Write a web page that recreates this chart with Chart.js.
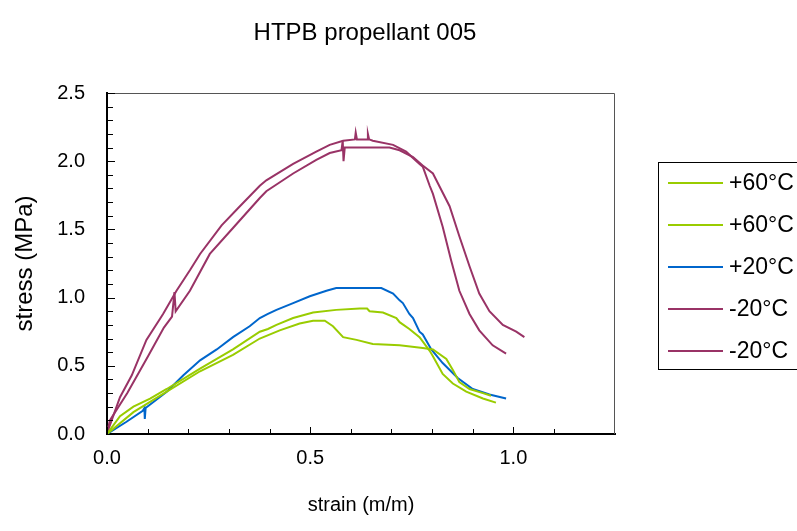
<!DOCTYPE html>
<html>
<head>
<meta charset="utf-8">
<script src="https://cdn.jsdelivr.net/npm/chart.js@4/dist/chart.umd.min.js"></script>
<style>
  html, body { margin: 0; padding: 0; background: #fff; }
  #wrap { width: 797px; height: 531px; }
</style>
</head>
<body>
<div id="wrap"><canvas id="chart" width="797" height="531"></canvas></div>
<script>
// serie: strain (m/m) e stress (MPa)
let labels = ['+60°C', '+60°C', '+20°C', '-20°C', '-20°C'];
let colors = ['#99CC00', '#99CC00', '#0066CC', '#993366', '#993366'];

let g1x = [0, 0.032, 0.065, 0.106, 0.147, 0.229, 0.31, 0.376, 0.396, 0.417, 0.458, 0.507, 0.564, 0.622, 0.64, 0.646, 0.679, 0.712, 0.72, 0.744, 0.769, 0.794, 0.802, 0.826, 0.851, 0.884, 0.925, 0.957];
let g1y = [0, 0.13, 0.20, 0.26, 0.33, 0.48, 0.62, 0.75, 0.77, 0.80, 0.85, 0.89, 0.91, 0.92, 0.92, 0.90, 0.89, 0.85, 0.82, 0.77, 0.71, 0.61, 0.57, 0.44, 0.37, 0.31, 0.26, 0.23];

let g2x = [0, 0.065, 0.147, 0.229, 0.31, 0.376, 0.425, 0.474, 0.507, 0.536, 0.556, 0.581, 0.614, 0.654, 0.72, 0.777, 0.802, 0.835, 0.851, 0.867, 0.892, 0.925, 0.945];
let g2y = [0, 0.16, 0.31, 0.46, 0.58, 0.70, 0.76, 0.81, 0.83, 0.83, 0.79, 0.71, 0.69, 0.66, 0.65, 0.63, 0.62, 0.55, 0.47, 0.38, 0.33, 0.30, 0.28];

let bx = [0, 0.048, 0.088, 0.092, 0.093, 0.095, 0.147, 0.188, 0.229, 0.27, 0.31, 0.351, 0.376, 0.396, 0.417, 0.458, 0.499, 0.54, 0.564, 0.675, 0.704, 0.72, 0.728, 0.744, 0.753, 0.769, 0.777, 0.798, 0.826, 0.863, 0.9, 0.941, 0.982];
let by = [0, 0.09, 0.17, 0.19, 0.11, 0.19, 0.31, 0.43, 0.54, 0.62, 0.71, 0.79, 0.85, 0.88, 0.91, 0.96, 1.01, 1.05, 1.07, 1.07, 1.03, 0.98, 0.96, 0.88, 0.85, 0.75, 0.73, 0.62, 0.52, 0.41, 0.33, 0.29, 0.26];

let m1x = [0, 0.003, 0.032, 0.061, 0.097, 0.138, 0.171, 0.204, 0.229, 0.282, 0.327, 0.376, 0.392, 0.458, 0.515, 0.548, 0.581, 0.61, 0.612, 0.615, 0.64, 0.642, 0.645, 0.654, 0.704, 0.736, 0.769, 0.777, 0.794, 0.802, 0.826, 0.847, 0.867, 0.892, 0.916, 0.949, 0.982];
let m1y = [0, 0.03, 0.27, 0.43, 0.69, 0.88, 1.05, 1.20, 1.32, 1.53, 1.67, 1.82, 1.86, 1.98, 2.07, 2.12, 2.15, 2.16, 2.21, 2.16, 2.16, 2.20, 2.16, 2.15, 2.12, 2.07, 1.98, 1.96, 1.82, 1.76, 1.52, 1.27, 1.05, 0.88, 0.76, 0.65, 0.59];

let m2x = [0, 0.007, 0.05, 0.101, 0.14, 0.16, 0.166, 0.169, 0.204, 0.253, 0.31, 0.376, 0.392, 0.458, 0.515, 0.548, 0.577, 0.58, 0.582, 0.585, 0.695, 0.72, 0.753, 0.776, 0.802, 0.843, 0.867, 0.892, 0.916, 0.941, 0.974, 1.007, 1.027];
let m2y = [0, 0.10, 0.30, 0.57, 0.78, 0.86, 1.04, 0.90, 1.05, 1.32, 1.51, 1.73, 1.78, 1.91, 2.01, 2.06, 2.08, 2.15, 2.00, 2.10, 2.10, 2.08, 2.03, 1.97, 1.91, 1.67, 1.45, 1.23, 1.03, 0.90, 0.80, 0.75, 0.71];

let xTickLabels = [0, 0.5, 1.0];
let yTickLabels = [0, 0.5, 1.0, 1.5, 2.0, 2.5];

let serie = [[g1x, g1y], [g2x, g2y], [bx, by], [m1x, m1y], [m2x, m2y]];

let FONT = "'Liberation Sans', Arial, sans-serif";

function toPoints(xs, ys) {
    let pts = [];
    for (let i = 0; i < xs.length; i++) pts.push({x: xs[i], y: ys[i]});
    return pts;
}

function isLabel(v, list) {
    return list.some(l => Math.abs(l - v) < 1e-6);
}

// titolo, bordo, tacche interne e legenda
let decorPlugin = {
    id: 'decor',
    afterDraw(chart) {
        let {ctx, chartArea: a} = chart;
        ctx.save();

        // bordo sopra e a destra
        ctx.strokeStyle = '#555';
        ctx.lineWidth = 1;
        ctx.beginPath();
        ctx.moveTo(a.left, a.top + 0.5);
        ctx.lineTo(a.right - 0.5, a.top + 0.5);
        ctx.lineTo(a.right - 0.5, a.bottom);
        ctx.stroke();

        // tacche verso l'interno
        ctx.strokeStyle = '#000';
        ctx.lineWidth = 1;
        let xs = chart.scales.x, ys = chart.scales.y;
        xs.ticks.forEach(t => {
            let v = t.value;
            if (Math.abs(v * 10 - Math.round(v * 10)) > 1e-6) return;
            let px = Math.round(xs.getPixelForValue(v)) + 0.5;
            let len = isLabel(v, xTickLabels) ? 7 : 5;
            ctx.beginPath();
            ctx.moveTo(px, a.bottom);
            ctx.lineTo(px, a.bottom - len);
            ctx.stroke();
        });
        ys.ticks.forEach(t => {
            let v = t.value;
            if (Math.abs(v * 10 - Math.round(v * 10)) > 1e-6) return;
            let py = Math.round(ys.getPixelForValue(v)) + 0.5;
            let len = isLabel(v, yTickLabels) ? 8 : 6;
            ctx.beginPath();
            ctx.moveTo(a.left, py);
            ctx.lineTo(a.left + len, py);
            ctx.stroke();
        });

        // titolo
        ctx.fillStyle = '#000';
        ctx.font = '24px ' + FONT;
        ctx.textAlign = 'center';
        ctx.textBaseline = 'middle';
        ctx.fillText('HTPB propellant 005', 365, 33);

        // legenda
        let lx = 658, ly = 162, rowH = 42;
        ctx.strokeStyle = '#000';
        ctx.lineWidth = 1;
        ctx.strokeRect(lx + 0.5, ly + 0.5, 797 - lx, 369 - ly);
        ctx.textAlign = 'left';
        ctx.font = '23px ' + FONT;
        chart.data.datasets.forEach((d, i) => {
            let y = ly + 21 + i * rowH;
            ctx.strokeStyle = d.borderColor;
            ctx.lineWidth = 2;
            ctx.beginPath();
            ctx.moveTo(668, y);
            ctx.lineTo(723, y);
            ctx.stroke();
            ctx.fillStyle = '#000';
            ctx.fillText(d.label, 729, y + 1);
        });
        ctx.restore();
    }
};

let datasets = serie.map((s, i) => ({
    label: labels[i],
    data: toPoints(s[0], s[1]),
    borderColor: colors[i],
    backgroundColor: colors[i],
    borderWidth: 2,
    pointRadius: 0,
    showLine: true,
    tension: 0,
    fill: false
}));

let ctx = document.getElementById('chart').getContext('2d');
let chart = new Chart(ctx, {
    type: 'scatter',
    data: { datasets: datasets },
    options: {
        responsive: false,
        animation: false,
        events: [],
        layout: { padding: { left: 0, right: 182, top: 93, bottom: 0 } },
        plugins: {
            legend: { display: false },
            title: { display: false },
            tooltip: { enabled: false }
        },
        scales: {
            x: {
                type: 'linear',
                min: 0,
                max: 1.25,
                afterFit(scale) { scale.height = 97; },
                border: { display: true, color: '#000', width: 2 },
                grid: { display: true, drawOnChartArea: false, drawTicks: false },
                ticks: {
                    stepSize: 0.1,
                    autoSkip: false,
                    maxRotation: 0,
                    padding: 12,
                    color: '#000',
                    font: { family: FONT, size: 20 },
                    callback: v => isLabel(v, xTickLabels) ? v.toFixed(1) : ''
                },
                title: {
                    display: true,
                    text: 'strain (m/m)',
                    color: '#000',
                    font: { family: FONT, size: 20 },
                    padding: { top: 0, bottom: 14 }
                }
            },
            y: {
                type: 'linear',
                min: 0,
                max: 2.5,
                afterFit(scale) { scale.width = 107; },
                border: { display: true, color: '#000', width: 2 },
                grid: { display: true, drawOnChartArea: false, drawTicks: false },
                ticks: {
                    stepSize: 0.1,
                    autoSkip: false,
                    padding: 22,
                    color: '#000',
                    font: { family: FONT, size: 20 },
                    callback: v => isLabel(v, yTickLabels) ? v.toFixed(1) : ''
                },
                title: {
                    display: true,
                    text: 'stress (MPa)',
                    color: '#000',
                    font: { family: FONT, size: 24 },
                    padding: { top: 11, bottom: 0 }
                }
            }
        }
    },
    plugins: [decorPlugin]
});
</script>
</body>
</html>
